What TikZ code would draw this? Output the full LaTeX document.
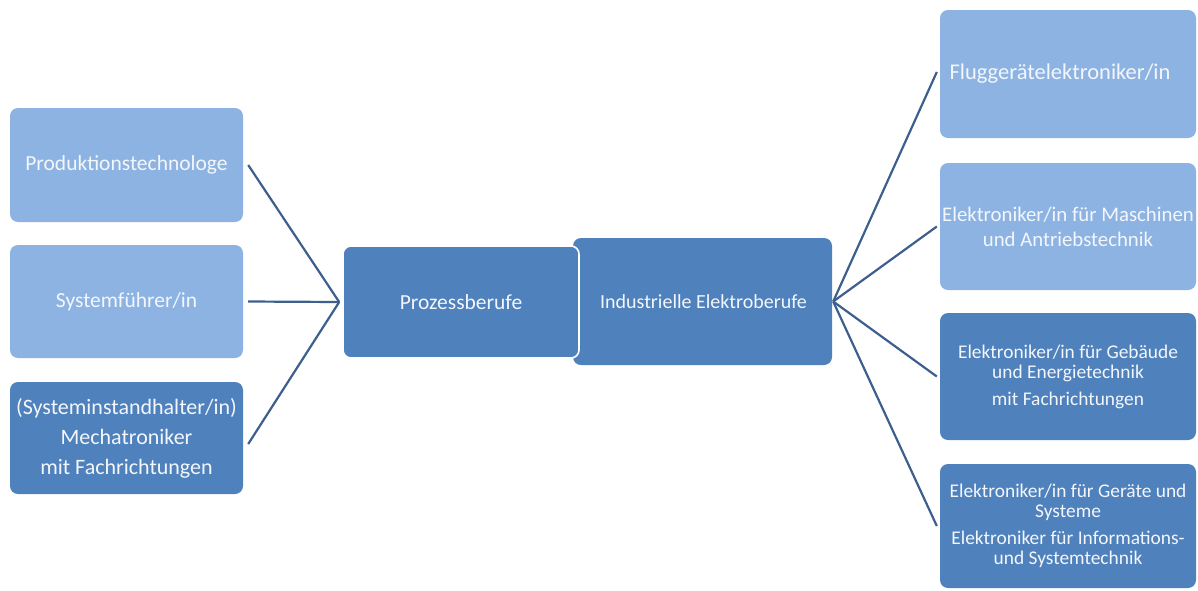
\documentclass[tikz,border=0pt]{standalone}
\usepackage{fontspec}
\setmainfont{Carlito}
\definecolor{lightbox}{HTML}{8DB3E2}
\definecolor{darkbox}{HTML}{4F81BD}
\definecolor{linkcol}{HTML}{3C5F8E}
\definecolor{txt}{HTML}{F3F6FB}
\begin{document}
\begin{tikzpicture}[x=1pt,y=-1pt,
  box/.style={rectangle,rounded corners=8pt,inner sep=2pt,align=center,text=txt,
    font=\fontsize{21.5}{26}\selectfont},
  lbox/.style={box,fill=lightbox},
  dbox/.style={box,fill=darkbox},
  link/.style={draw=linkcol,line width=2.2pt}]
\useasboundingbox (0,0) rectangle (1198,590);
% left column
\node[lbox,minimum width=233pt,minimum height=114pt] (A) at (126.5,165) {Produktionstechnologe};
\node[lbox,minimum width=233pt,minimum height=113pt] (B) at (126.5,301.5) {Systemführer/in};
\node[dbox,minimum width=233pt,minimum height=112pt,font=\fontsize{22}{30}\selectfont] (C) at (126.5,438) {(Systeminstandhalter/in)\\Mechatroniker\\mit Fachrichtungen};
% centre
\node[dbox,minimum width=259pt,minimum height=127pt,font=\fontsize{20}{24}\selectfont] (I) at (702.5,301.5) {\hspace*{2pt}Industrielle Elektroberufe};
\node[dbox,draw=white,line width=1.6pt,minimum width=236pt,minimum height=112pt] (P) at (461,302) {Prozessberufe};
% right column
\node[lbox,minimum width=256pt,minimum height=128pt,font=\fontsize{22.5}{26}\selectfont] (R1) at (1068,74) {Fluggerätelektroniker/in\hspace*{16pt}};
\node[lbox,minimum width=256pt,minimum height=127pt,font=\fontsize{20.8}{25}\selectfont] (R2) at (1068,226.5) {Elektroniker/in für Maschinen\\und Antriebstechnik};
\node[dbox,minimum width=256pt,minimum height=127pt,font=\fontsize{19.4}{20}\selectfont] (R3) at (1068,376.5) {Elektroniker/in für Gebäude\\und Energietechnik\\[7pt]mit Fachrichtungen};
\node[dbox,minimum width=256pt,minimum height=124pt,font=\fontsize{19.4}{20}\selectfont] (R4) at (1068,526) {Elektroniker/in für Geräte und\\Systeme\\[7pt]Elektroniker für Informations-\\und Systemtechnik};
% connectors
\draw[link] ([xshift=5pt]A.east) -- ([xshift=-3pt]P.west);
\draw[link] ([xshift=5pt]B.east) -- ([xshift=-3pt]P.west);
\draw[link] ([xshift=5pt,yshift=-6pt]C.east) -- ([xshift=-3pt]P.west);
\draw[link] ([xshift=1pt]I.east) -- ([xshift=-3pt,yshift=2pt]R1.west);
\draw[link] ([xshift=1pt]I.east) -- ([xshift=-3pt]R2.west);
\draw[link] ([xshift=1pt]I.east) -- ([xshift=-3pt]R3.west);
\draw[link] ([xshift=1pt]I.east) -- ([xshift=-3pt]R4.west);
\end{tikzpicture}
\end{document}
